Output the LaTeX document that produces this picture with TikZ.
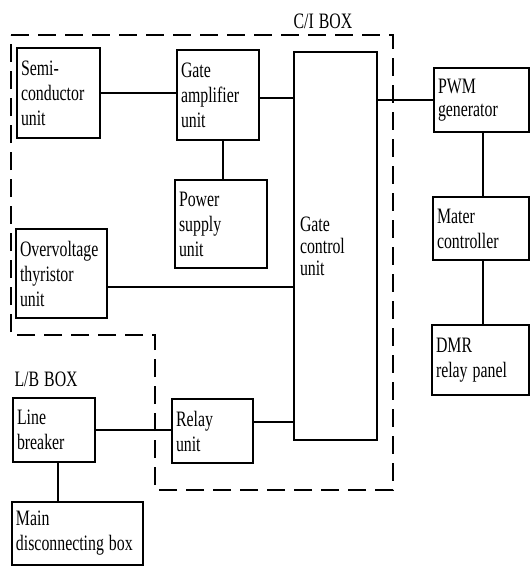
\documentclass[tikz,border=0pt]{standalone}
\usepackage{fontspec}
\setmainfont{Liberation Serif}[FakeStretch=0.72,WordSpace=0.7]
\newcommand{\wsp}{\hspace{5pt}}
\begin{document}
\begin{tikzpicture}[x=1pt,y=-1pt,
  line width=1.1pt,
  every node/.style={font=\fontsize{22}{25}\selectfont},
  blk/.style={draw, line width=1.1pt, align=left, inner xsep=4pt, inner ysep=0pt, anchor=center},
  wire/.style={line width=1.1pt},
  dashbox/.style={line width=1.1pt, dash pattern=on 18pt off 9pt}]
\useasboundingbox (0,0) rectangle (531,566);

% dashed C/I box outline
\draw[dashbox] (11,35) -- (393,35) -- (393,490) -- (155,490) -- (155,335) -- (11,335) -- cycle;

\node[anchor=center] (cilabel) at (323,21) {C/I\wsp BOX};
\node[anchor=west, inner sep=0pt] (lblabel) at (14,379) {L/B\wsp BOX};

\node[blk, text width=75pt, minimum height=90pt] (semi) at (58.5,93) {Semi-\\conductor\\unit};
\node[blk, text width=74pt, minimum height=90pt] (gamp) at (218,95) {Gate\\amplifier\\unit};
\node[blk, text width=84pt, minimum height=88pt] (psu) at (221,224) {Power\\supply\\unit};
\node[blk, text width=71pt, inner xsep=6pt, minimum height=388pt, font=\fontsize{22}{22}\selectfont] (gcu) at (335.5,246) {Gate\\control\\unit};
\node[blk, text width=83pt, minimum height=89pt] (ovt) at (61.5,273.5) {Overvoltage\\thyristor\\unit};
\node[blk, text width=74pt, minimum height=64pt] (lb) at (54,430) {Line\\breaker};
\node[blk, text width=73pt, minimum height=64pt] (relay) at (212.5,431) {Relay\\unit};
\node[blk, text width=123pt, minimum height=63pt] (mdb) at (77.5,533.5) {Main\\disconnecting\wsp box};
\node[blk, text width=87pt, minimum height=64pt, font=\fontsize{22}{23}\selectfont] (pwm) at (481.5,100) {PWM\\generator};
\node[blk, text width=88pt, minimum height=63pt] (mater) at (481,228.5) {Mater\\controller};
\node[blk, text width=89pt, minimum height=70pt] (dmr) at (480.5,360) {DMR\\relay\wsp panel};

% connectors
\draw[wire] (semi.east) -- (semi.east -| gamp.west);
\draw[wire] ([yshift=-3pt]gamp.east) -- ([yshift=-3pt]gamp.east -| gcu.west);
\draw[wire] ([xshift=5pt]gamp.south) -- ([xshift=5pt]gamp.south |- psu.north);
\draw[wire] ([yshift=-13.5pt]ovt.east) -- ([yshift=-13.5pt]ovt.east -| gcu.west);
\draw[wire] (pwm.west) -- (pwm.west -| gcu.east);
\draw[wire] ([xshift=1.5pt]pwm.south) -- ([xshift=1.5pt]pwm.south |- mater.north);
\draw[wire] ([xshift=2pt]mater.south) -- ([xshift=2pt]mater.south |- dmr.north);
\draw[wire] (lb.east) -- (lb.east -| relay.west);
\draw[wire] ([yshift=9pt]relay.east) -- ([yshift=9pt]relay.east -| gcu.west);
\draw[wire] ([xshift=4pt]lb.south) -- ([xshift=4pt]lb.south |- mdb.north);
\end{tikzpicture}
\end{document}
